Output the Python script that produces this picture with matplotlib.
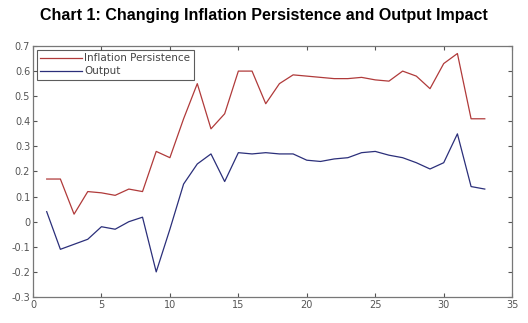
import matplotlib
matplotlib.use("Agg")
import matplotlib.pyplot as plt

# periods and series
periods = list(range(1, 34))
inflation = [0.17, 0.17, 0.03, 0.12, 0.115, 0.105, 0.13, 0.12, 0.28, 0.255,
             0.41, 0.55, 0.37, 0.43, 0.60, 0.60, 0.47, 0.55, 0.585, 0.58,
             0.575, 0.57, 0.57, 0.575, 0.565, 0.56, 0.60, 0.58, 0.53, 0.63,
             0.67, 0.41, 0.41]
output = [0.04, -0.11, -0.09, -0.07, -0.02, -0.03, 0.0, 0.018, -0.20, -0.03,
          0.15, 0.23, 0.27, 0.16, 0.275, 0.27, 0.275, 0.27, 0.27, 0.245,
          0.24, 0.25, 0.255, 0.275, 0.28, 0.265, 0.255, 0.235, 0.21, 0.235,
          0.35, 0.14, 0.13]

fig = plt.figure(figsize=(5.28, 3.23), dpi=100)
ax = fig.add_axes([0.0625, 0.0805, 0.9075, 0.7771])

ax.plot(periods, inflation, color="#b03a3a", lw=0.9, label="Inflation Persistence")
ax.plot(periods, output, color="#2b2f7a", lw=0.9, label="Output")

ax.set_xlim(0, 35)
ax.set_ylim(-0.3, 0.7)
ax.set_xticks(range(0, 36, 5))
ax.set_yticks([-0.3, -0.2, -0.1, 0, 0.1, 0.2, 0.3, 0.4, 0.5, 0.6, 0.7])
ax.set_yticklabels(["-0.3", "-0.2", "-0.1", "0", "0.1", "0.2", "0.3", "0.4", "0.5", "0.6", "0.7"])
ax.tick_params(direction="in", top=True, right=True, length=3, width=0.8,
               labelsize=7, colors="#555555", pad=2)
for s in ax.spines.values():
    s.set_color("#777777")
    s.set_linewidth(0.9)

leg = ax.legend(loc="upper left", fontsize=7.5, frameon=True, fancybox=False,
                handlelength=4.0, borderaxespad=0.35, labelspacing=0.3,
                borderpad=0.35, handletextpad=0.2)
leg.get_frame().set_edgecolor("#333333")
leg.get_frame().set_linewidth(0.8)
for t in leg.get_texts():
    t.set_color("#444444")

fig.suptitle("Chart 1: Changing Inflation Persistence and Output Impact",
             x=0.5, y=0.975, fontsize=11.5, fontweight="bold",
             family="Liberation Sans")

fig.savefig("out.png", dpi=100)
